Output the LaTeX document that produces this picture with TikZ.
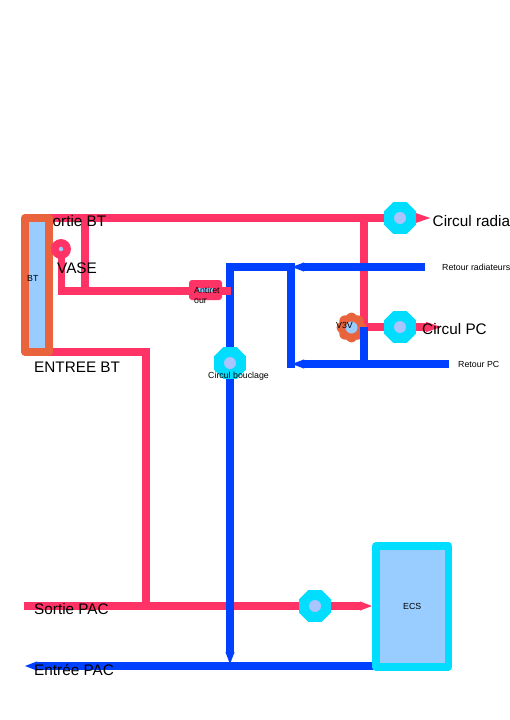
\documentclass[tikz,border=0pt]{standalone}
\usepackage{fontspec}
\setmainfont{Liberation Sans}
\usetikzlibrary{shapes.geometric, arrows.meta}
\definecolor{pipered}{HTML}{FF3366}
\definecolor{pipeblue}{HTML}{0040FF}
\definecolor{pumpcyan}{HTML}{00DDFF}
\definecolor{tankblue}{HTML}{99CCFF}
\definecolor{eyeblue}{HTML}{AAC4FF}
\definecolor{btorange}{HTML}{E9643C}
\tikzset{
  redpipe/.style={draw=pipered, line width=8pt},
  bluepipe/.style={draw=pipeblue, line width=8pt},
  redtip/.style={redpipe, -{Triangle[length=#1 0 0,width=8pt 0]}},
  bluetip/.style={bluepipe, -{Triangle[length=13pt 0 0,width=8pt 0]}},
  pump/.style={regular polygon, regular polygon sides=8, fill=pumpcyan, inner sep=0pt, minimum size=34.6pt},
  pumpeye/.style={circle, fill=eyeblue, inner sep=0pt, minimum size=12pt},
  tank/.style={fill=tankblue, line width=7.5pt, line join=round, inner sep=0pt},
  biglabel/.style={anchor=west, inner sep=0pt, font=\fontsize{15.3}{16}\selectfont},
  smalllabel/.style={anchor=west, inner sep=0pt, font=\fontsize{8.8}{9.5}\selectfont}
}
\begin{document}
\begin{tikzpicture}[x=1pt,y=-1pt]
\useasboundingbox (0,0) rectangle (509,720);
\fill[white] (0,0) rectangle (509,720);
\coordinate (topstart) at (48,218);
\coordinate (topbranch) at (85,218);
\coordinate (lowbranch) at (85,291);
\coordinate (vasefoot) at (61,291);
\coordinate (antiretend) at (231,291);
\coordinate (entreestart) at (48,352);
\coordinate (entreecorner) at (146,352);
\coordinate (sortiejoin) at (146,606);
\coordinate (sortiestart) at (24,606);
\coordinate (sortietip) at (373,606);
\coordinate (radiatip) at (433,218);
\coordinate (radiadrop) at (363.5,218);
\coordinate (pctip) at (446,327);
\coordinate (pcdrop) at (363.5,327);
\coordinate (bouclagetop) at (230,267);
\coordinate (bouclagetip) at (230,665);
\coordinate (entreetip) at (24,666);
\coordinate (entreeend) at (378,666);
\coordinate (retourrad) at (424.5,267);
\coordinate (retourradtip) at (291,267);
\coordinate (retourpc) at (449,364);
\coordinate (retourpctip) at (291,364);
\coordinate (v3vdrop) at (363.5,364);
\coordinate (v3vtop) at (363.5,327);
% red circuit
\draw[redpipe] (topstart) -- (radiadrop);
\draw[redtip=17pt] (radiadrop) -- (radiatip);
\draw[redpipe] (topbranch) -- (lowbranch);
\draw[redpipe, line width=7pt] (61,249) -- (vasefoot);
\draw[redpipe] (57.5,291) -- (lowbranch) -- (206,291);
\draw[redpipe] (entreestart) -- (entreecorner) -- (sortiejoin);
\draw[redpipe] (sortiestart) -- (sortiejoin);
\draw[redtip=13pt] (sortiejoin) -- (sortietip);
\draw[redpipe] (radiadrop) -- (pcdrop);
\draw[redtip=20pt] (pcdrop) -- (pctip);
% blue circuit
\draw[bluetip] (retourrad) -- (retourradtip);
\draw[bluetip] (retourpc) -- (retourpctip);
\draw[bluepipe] (retourradtip) -- (bouclagetop);
\draw[bluepipe] (291,263) -- (291,368);
\draw[bluetip] (226,267) -- (bouclagetop) -- (bouclagetip);
\draw[bluetip] (entreeend) -- (entreetip);
% label partly under the box
\node[biglabel, anchor=east] (sortiebtlabel) at (106.5,221) {Sortie BT};
% equipment
\node[tank, draw=btorange, minimum width=24pt, minimum height=134pt] (bt) at (36.75,285) {};
\node[tank, draw=pumpcyan, minimum width=72.5pt, minimum height=121pt, font=\fontsize{8.8}{9.5}\selectfont] (ecs) at (412.25,606.25) {ECS};
\node[circle, fill=pipered, inner sep=0pt, minimum size=20pt] (vase) at (61,249) {};
\node[circle, fill=tankblue, inner sep=0pt, minimum size=4.5pt] (vaseeye) at (vase) {};
\node[rectangle, rounded corners=3pt, fill=pipered, minimum width=33pt, minimum height=20pt, inner sep=0pt] (antiret) at (205.5,290) {};
\fill[tankblue] (198,288) rectangle (213,292);
\draw[redpipe] (213,291) -- (antiretend);
\foreach \name/\pos in {pumpradia/{400,218}, pumppc/{400,327}, pumpbouclage/{230,363}, pumpecs/{315,606}}{
  \node[pump] (\name) at (\pos) {};
  \node[pumpeye] (\name eye) at (\name) {};
}
\fill[btorange, shift={(351.5,327.5)}] plot[domain=0:360, samples=145, smooth] (\x:{13+1.8*abs(cos(4*\x))});
\node[circle, fill=tankblue, inner sep=0pt, minimum size=12pt] (v3v) at (351.5,327.5) {};
\draw[bluepipe] (v3vtop) -- (v3vdrop);
% labels
\node[smalllabel] (btlabel) at (27,278) {BT};
\node[biglabel] (vaselabel) at (57,268) {VASE};
\node[smalllabel, align=left] (antiretlabel) at (194,295.5) {Antiret\\our};
\node[biglabel] (entreebtlabel) at (34,367) {ENTREE BT};
\node[smalllabel] (bouclagelabel) at (208,376) {Circul bouclage};
\node[smalllabel] (v3vlabel) at (336,325) {V3V};
\node[biglabel] (radialabel) at (432.5,221) {Circul radia};
\node[biglabel] (pclabel) at (422,329.5) {Circul PC};
\node[smalllabel] (retourradlabel) at (442,267) {Retour radiateurs};
\node[smalllabel] (retourpclabel) at (458,364) {Retour PC};
\node[biglabel] (sortiepaclabel) at (34,609) {Sortie PAC};
\node[biglabel] (entreepaclabel) at (34,669.5) {Entrée PAC};
\end{tikzpicture}
\end{document}
